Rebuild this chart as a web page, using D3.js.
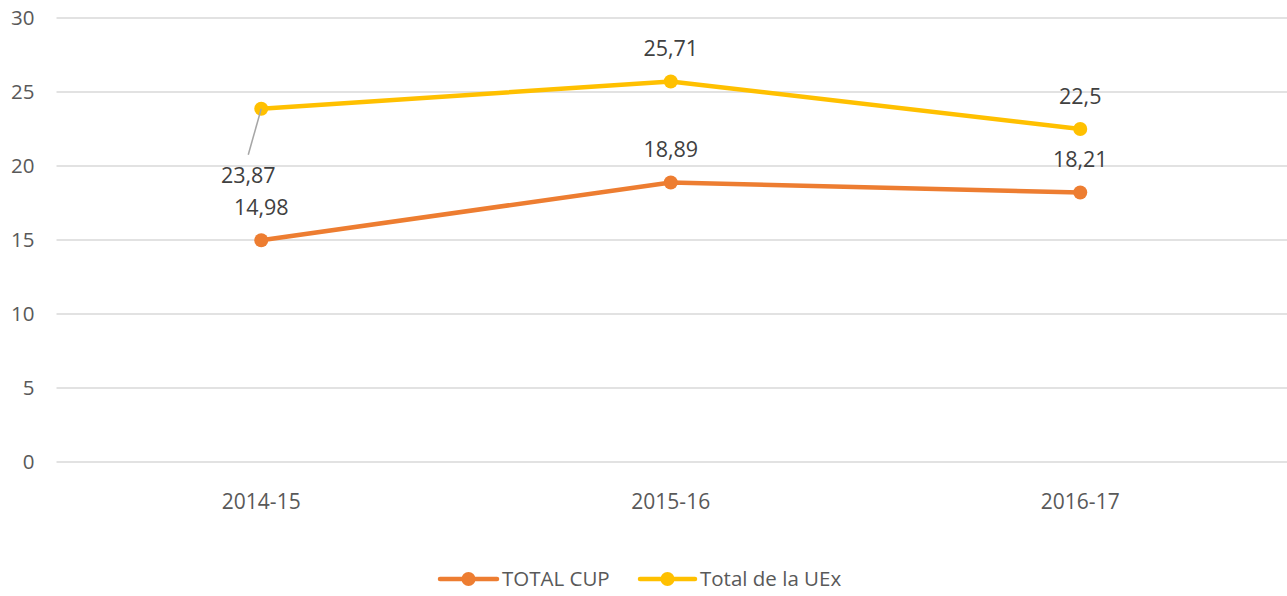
<!DOCTYPE html>
<html>
<head>
<meta charset="utf-8">
<script src="https://cdn.jsdelivr.net/npm/d3@7"></script>
<style>
  html, body { margin: 0; padding: 0; background: #fff; }
  svg { display: block; font-family: "Open Sans", "Liberation Sans", sans-serif; }
</style>
</head>
<body>
<svg id="chart" width="1287" height="596"></svg>
<script>
// Academic years
const categories = ["2014-15", "2015-16", "2016-17"];
// Series values
const totalCup = [14.98, 18.89, 18.21];
const totalUEx = [23.87, 25.71, 22.5];
const seriesNames = ["TOTAL CUP", "Total de la UEx"];
const seriesColors = ["#ED7D31", "#FFC000"];
const yTicks = [0, 5, 10, 15, 20, 25, 30];

const series = [
  { name: seriesNames[0], values: totalCup, color: seriesColors[0] },
  { name: seriesNames[1], values: totalUEx, color: seriesColors[1] }
];

const svg = d3.select("#chart");
const plot = { left: 56.5, right: 1285, top: 18, bottom: 462 };

const x = d3.scaleBand().domain(categories).range([plot.left, plot.right]).padding(0);
const y = d3.scaleLinear().domain([0, 30]).range([plot.bottom, plot.top]);
const cx = c => x(c) + x.bandwidth() / 2;

// Horizontal gridlines
svg.append("g")
  .selectAll("line")
  .data(yTicks)
  .join("line")
  .attr("x1", plot.left)
  .attr("x2", plot.right + 2)
  .attr("y1", d => y(d))
  .attr("y2", d => y(d))
  .attr("stroke", "#d9d9d9")
  .attr("stroke-width", 1.5);

// Y axis labels
const yAxis = d3.axisLeft(y).tickValues(yTicks).tickSize(0).tickPadding(22).tickFormat(d3.format("d"));
const yg = svg.append("g").attr("transform", `translate(${plot.left},0)`).call(yAxis);
yg.select(".domain").remove();
yg.selectAll("text").attr("fill", "#595959").style("font-size", "20.5px")
  .style("font-family", "'Open Sans', sans-serif");

// X axis labels
const xAxis = d3.axisBottom(x).tickSize(0).tickPadding(32);
const xg = svg.append("g").attr("transform", `translate(0,${plot.bottom})`).call(xAxis);
xg.select(".domain").remove();
xg.selectAll("text").attr("fill", "#595959").style("font-size", "21px")
  .style("font-family", "'Open Sans', sans-serif");

// Lines and markers
const line = d3.line().x((d, i) => cx(categories[i])).y(d => y(d));
series.forEach(s => {
  svg.append("path")
    .datum(s.values)
    .attr("d", line)
    .attr("fill", "none")
    .attr("stroke", s.color)
    .attr("stroke-width", 4.5)
    .attr("stroke-linejoin", "round")
    .attr("stroke-linecap", "round");
  svg.append("g")
    .selectAll("circle")
    .data(s.values)
    .join("circle")
    .attr("cx", (d, i) => cx(categories[i]))
    .attr("cy", d => y(d))
    .attr("r", 7)
    .attr("fill", s.color);
});

// Data labels
const fmt = v => String(v).replace(".", ",");
const labelGroup = svg.append("g")
  .attr("fill", "#404040")
  .style("font-size", "21.5px")
  .attr("text-anchor", "middle");

series.forEach((s, si) => {
  s.values.forEach((v, i) => {
    const px = cx(categories[i]);
    const py = y(v);
    let lx = px, ly = py - 25;
    if (si === 1 && i === 0) {
      // label moved below the point, tied back with a leader line
      lx = px - 13;
      ly = py + 74;
      svg.append("line")
        .attr("x1", px).attr("y1", py)
        .attr("x2", px - 13).attr("y2", py + 46)
        .attr("stroke", "#a6a6a6")
        .attr("stroke-width", 1.5);
    }
    labelGroup.append("text")
      .attr("x", lx)
      .attr("y", ly)
      .text(fmt(v));
  });
});

// Legend
const legendItems = [
  { x1: 440, x2: 497, tx: 502 },
  { x1: 640, x2: 695, tx: 700 }
];
const legendY = 579;
const lg = svg.append("g");
series.forEach((s, i) => {
  const it = legendItems[i];
  lg.append("line")
    .attr("x1", it.x1).attr("x2", it.x2)
    .attr("y1", legendY).attr("y2", legendY)
    .attr("stroke", s.color).attr("stroke-width", 4.5)
    .attr("stroke-linecap", "round");
  lg.append("circle")
    .attr("cx", (it.x1 + it.x2) / 2).attr("cy", legendY)
    .attr("r", 7).attr("fill", s.color);
  lg.append("text")
    .attr("x", it.tx).attr("y", legendY)
    .attr("dy", "0.35em")
    .attr("fill", "#595959")
    .style("font-size", "20.5px")
    .text(s.name);
});
</script>
</body>
</html>
